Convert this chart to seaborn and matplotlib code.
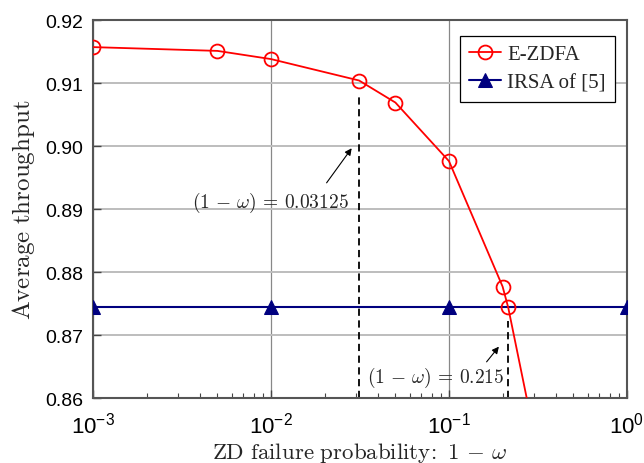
import numpy as np
import pandas as pd
import seaborn as sns
import matplotlib
matplotlib.use("Agg")
import matplotlib.pyplot as plt
from matplotlib.ticker import LogLocator, NullFormatter

# =========================
#          DATA
# =========================
ezdfa_p = [0.001, 0.005, 0.01, 0.03125, 0.05, 0.1, 0.2, 0.215, 0.3]
ezdfa_thr = [0.9157, 0.9151, 0.9138, 0.9104, 0.9069, 0.8976, 0.8777, 0.8744, 0.8544]

irsa_p = [0.001, 0.01, 0.1, 1.0]
irsa_thr = [0.8745, 0.8745, 0.8745, 0.8745]

# vertical guide lines: (x, top y)
guide_x = [0.03125, 0.215]
guide_top = [0.9079, 0.8722]

labels = ["E-ZDFA", "IRSA of [5]"]

# =========================
#          STYLE
# =========================
sns.set_style("ticks")
plt.rcParams["font.family"] = ["Liberation Sans", "DejaVu Sans"]
plt.rcParams["mathtext.fontset"] = "custom"
plt.rcParams["mathtext.rm"] = "Liberation Sans"
plt.rcParams["mathtext.it"] = "Liberation Sans:italic"

df_e = pd.DataFrame({"p": ezdfa_p, "thr": ezdfa_thr})
df_i = pd.DataFrame({"p": irsa_p, "thr": irsa_thr})

fig = plt.figure(figsize=(6.44, 4.64), dpi=100)
ax = fig.add_axes([0.1444, 0.140, 0.8292, 0.8147])

sns.lineplot(data=df_e, x="p", y="thr", ax=ax, color="red", lw=1.3,
             marker="o", markersize=10, markerfacecolor="none",
             markeredgecolor="red", markeredgewidth=1.3, label=labels[0],
             zorder=4)
sns.lineplot(data=df_i, x="p", y="thr", ax=ax, color="#00007f", lw=1.5,
             marker="^", markersize=10, markeredgecolor="#00007f",
             label=labels[1], zorder=3)

for gx, gt in zip(guide_x, guide_top):
    ax.plot([gx, gx], [0.86, gt], ls="--", color="black", lw=1.3,
            dashes=(4, 2.5), zorder=2)

ax.set_xscale("log")
ax.set_xlim(1e-3, 1)
ax.set_ylim(0.86, 0.92)
ax.set_yticks([0.86, 0.87, 0.88, 0.89, 0.90, 0.91, 0.92])
ax.set_yticklabels(["0.86", "0.87", "0.88", "0.89", "0.90", "0.91", "0.92"])
ax.xaxis.set_major_locator(LogLocator(base=10, numticks=10))
ax.xaxis.set_minor_locator(LogLocator(base=10, subs=np.arange(2, 10), numticks=10))
ax.xaxis.set_minor_formatter(NullFormatter())

ax.tick_params(axis="y", which="major", direction="in", labelsize=14,
               length=6, width=1, colors="#444444", labelcolor="black", pad=7)
ax.tick_params(axis="x", which="major", direction="in", labelsize=16,
               length=6, width=1, colors="#444444", labelcolor="black", pad=10)
ax.tick_params(axis="x", which="minor", direction="in", length=3.5,
               width=0.8, colors="#444444")

# grid: horizontal light, vertical darker
ax.yaxis.grid(True, color="#bdbdbd", lw=1.4, zorder=0)
ax.xaxis.grid(True, which="major", color="#888888", lw=0.9, zorder=0)
ax.set_axisbelow(True)

for s in ax.spines.values():
    s.set_color("#555555")
    s.set_linewidth(1.5)
    s.set_visible(True)

ax.set_xlabel(r"$\mathrm{ZD\ failure\ probability}\!:\ 1\,-\,\omega$",
              fontsize=16.5, math_fontfamily="cm", va="center")
ax.xaxis.set_label_coords(0.5, -0.143)
ax.set_ylabel(r"$\mathrm{Average\ throughput}$", fontsize=18,
              math_fontfamily="cm", labelpad=6)

# annotations
arrow = dict(arrowstyle="-|>", color="black", lw=0.8, mutation_scale=10)
ax.annotate("", xy=(0.029, 0.9000), xytext=(0.0201, 0.8938), arrowprops=arrow)
ax.text(0.00987, 0.8911, r"$(1\,-\,\omega)\,=\,0.03125$", fontsize=14,
        math_fontfamily="cm", ha="center", va="center")
ax.annotate("", xy=(0.195, 0.8685), xytext=(0.159, 0.8654), arrowprops=arrow)
ax.text(0.0841, 0.8633, r"$(1\,-\,\omega)\,=\,0.215$", fontsize=14,
        math_fontfamily="cm", ha="center", va="center")

leg = ax.legend(loc="upper right", bbox_to_anchor=(0.985, 0.97),
                prop={"family": "Liberation Serif", "size": 15},
                fancybox=False, framealpha=1, edgecolor="black",
                handlelength=1.5, handletextpad=0.3, borderpad=0.45,
                labelspacing=0.4, borderaxespad=0.2)
leg.get_frame().set_linewidth(0.9)

fig.savefig("out.png", dpi=100)
